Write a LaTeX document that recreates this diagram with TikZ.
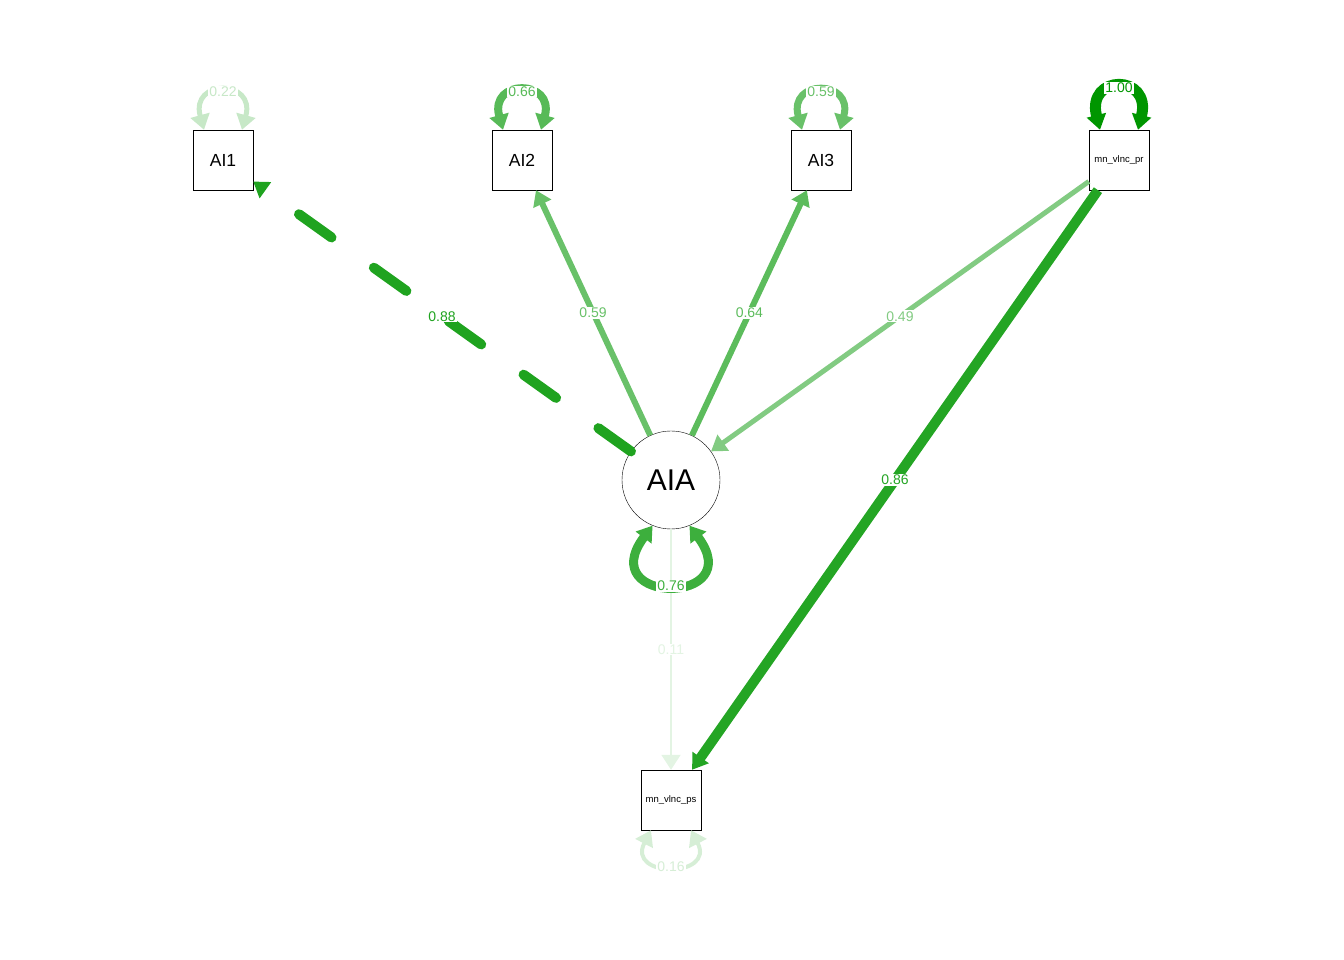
\documentclass[tikz,border=0pt]{standalone}
\usepackage{fontspec}
\setmainfont{Liberation Sans}
\usetikzlibrary{arrows.meta, positioning}
\definecolor{qgreen}{RGB}{0,150,0}
\tikzstyle{manifest}=[draw,fill=white,rectangle,minimum size=60pt,inner sep=0pt,font=\fontsize{17.5}{17.5}\selectfont]
\tikzstyle{latent}=[draw,fill=white,circle,minimum size=98pt,inner sep=0pt,font=\fontsize{30}{30}\selectfont]
\tikzstyle{tiny}=[font=\fontsize{9.5}{9.5}\selectfont]
\tikzstyle{est}=[fill=white,inner sep=1pt,font=\fontsize{14}{14}\selectfont]
\tikzstyle{regr}=[-{Triangle[length=15pt,width=19pt]}]
\tikzstyle{resid}=[{Triangle[length=15pt,width=19pt]}-{Triangle[length=15pt,width=19pt]}]

\begin{document}
\begin{tikzpicture}[x=1pt,y=1pt]
            \useasboundingbox (0,0) rectangle (1344,960);
            \node[manifest] (AI1) at (223,800) {AI1};
            \node[manifest, right of=AI1, node distance=299pt] (AI2) {AI2};
            \node[manifest, right of=AI2, node distance=299pt] (AI3) {AI3};
            \node[manifest, tiny, right of=AI3, node distance=298pt] (pr) {mn\_vlnc\_pr};
            \node[latent] (AIA) at (671,480) {AIA};
            \node[manifest, tiny, below of=AIA, node distance=320pt] (ps) {mn\_vlnc\_ps};
            % loadings and regressions
            \draw[regr, line width=10pt, qgreen!88!white, dash pattern=on 40pt off 52pt, line cap=round] (AIA) -- node[est] {0.88} (AI1);
            \draw[regr, line width=6pt, qgreen!59!white] (AIA) -- node[est] {0.59} (AI2);
            \draw[regr, line width=6pt, qgreen!64!white] (AIA) -- node[est] {0.64} (AI3);
            \draw[regr, line width=5pt, qgreen!49!white] (pr) -- node[est] {0.49} (AIA);
            \draw[regr, line width=10pt, qgreen!86!white] (pr) -- node[est] {0.86} (ps);
            \draw[regr, line width=2pt, qgreen!11!white] (AIA) -- node[est] {0.11} (ps);
            % residual variances
            \draw[resid, line width=5pt, qgreen!22!white] ([xshift=-19pt]AI1.north) .. controls +(-14,51) and +(14,51) .. node[est] {0.22} ([xshift=19pt]AI1.north);
            \draw[resid, line width=8pt, qgreen!66!white] ([xshift=-19pt]AI2.north) .. controls +(-14,51) and +(14,51) .. node[est] {0.66} ([xshift=19pt]AI2.north);
            \draw[resid, line width=7pt, qgreen!59!white] ([xshift=-19pt]AI3.north) .. controls +(-14,51) and +(14,51) .. node[est] {0.59} ([xshift=19pt]AI3.north);
            \draw[resid, line width=11pt, qgreen] ([xshift=-19pt]pr.north) .. controls +(-14,56) and +(14,56) .. node[est] {1.00} ([xshift=19pt]pr.north);
            \draw[resid, line width=9pt, qgreen!76!white] (AIA.-112) .. controls +(-60,-80) and +(60,-80) .. node[est] {0.76} (AIA.-68);
            \draw[resid, line width=4pt, qgreen!16!white] ([xshift=-20pt]ps.south) .. controls +(-25,-48) and +(25,-48) .. node[est] {0.16} ([xshift=20pt]ps.south);
        \end{tikzpicture}
\end{document}
